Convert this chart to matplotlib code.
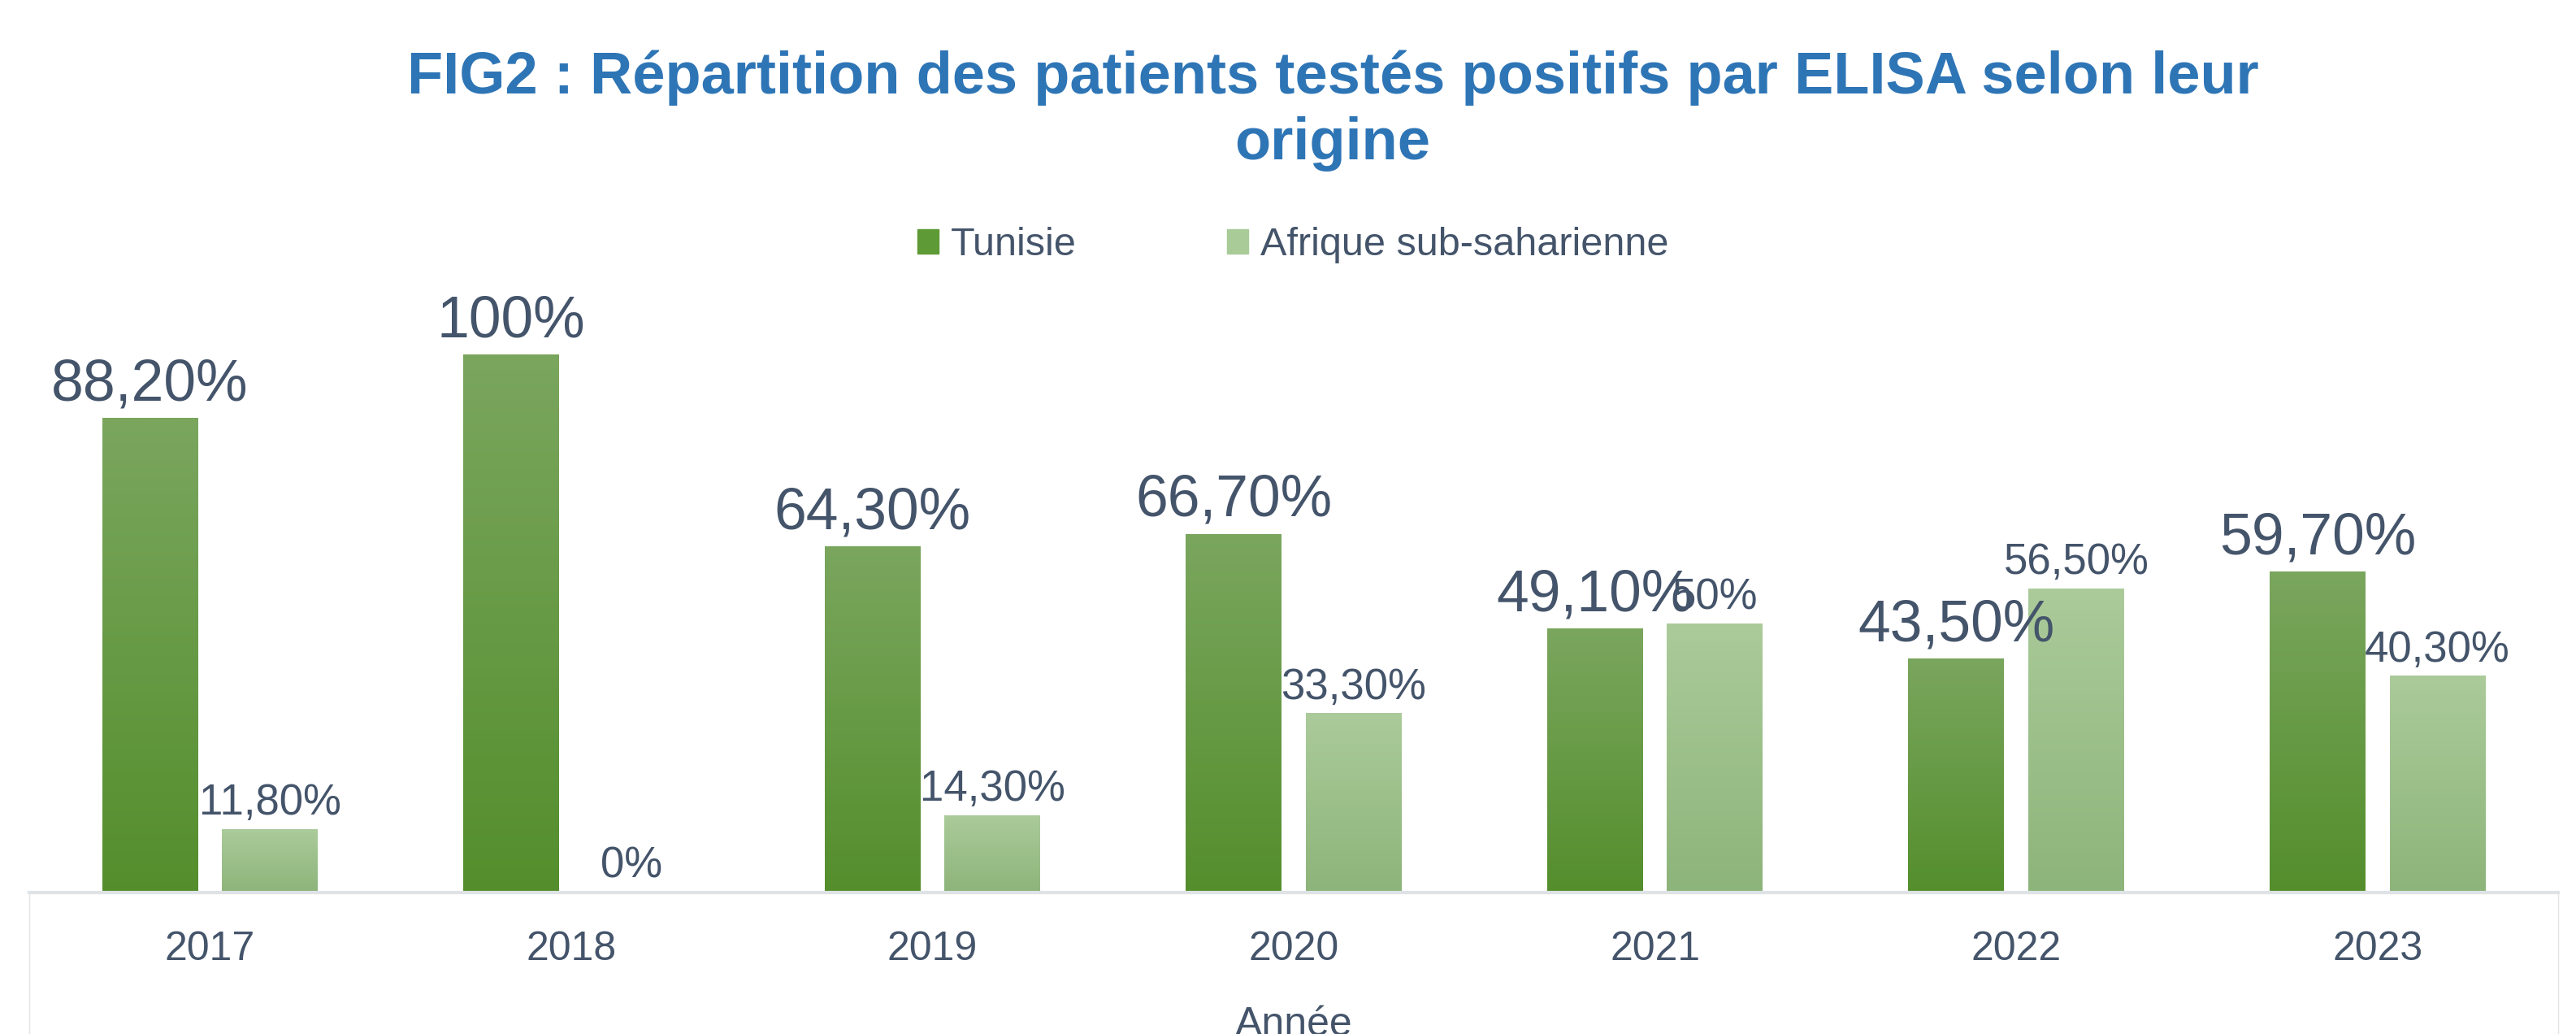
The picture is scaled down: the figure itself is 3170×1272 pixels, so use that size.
import matplotlib
matplotlib.use("Agg")
import matplotlib.pyplot as plt
import numpy as np
from matplotlib.patches import Patch, Rectangle
from matplotlib.colors import to_rgb

annees = ["2017", "2018", "2019", "2020", "2021", "2022", "2023"]
tunisie = [88.2, 100, 64.3, 66.7, 49.1, 43.5, 59.7]
afrique = [11.8, 0, 14.3, 33.3, 50, 56.5, 40.3]
lab_tunisie = ["88,20%", "100%", "64,30%", "66,70%", "49,10%", "43,50%", "59,70%"]
lab_afrique = ["11,80%", "0%", "14,30%", "33,30%", "50%", "56,50%", "40,30%"]

plt.rcParams["font.family"] = ["Liberation Sans", "DejaVu Sans"]
txt = "#44546A"

W, H = 3170, 1272
fig = plt.figure(figsize=(W / 100, H / 100), dpi=100)
ax_left, ax_right = 36, 3148
ax_bot, ax_top = 1098, 1098 - 661 * 1.1
ax = fig.add_axes([ax_left / W, 1 - ax_bot / H, (ax_right - ax_left) / W, (ax_bot - ax_top) / H])

x = np.arange(len(annees))
bw = 0.265
off = 0.166


def gradient(bars, top, bottom):
    c1, c2 = np.array(to_rgb(top)), np.array(to_rgb(bottom))
    t = np.linspace(0, 1, 256)[:, None, None]
    img = c1 * (1 - t) + c2 * t
    for b in bars:
        h = b.get_height()
        if h <= 0:
            continue
        x0 = b.get_x()
        ax.imshow(img, extent=[x0, x0 + b.get_width(), 0, h], aspect="auto",
                  origin="upper", zorder=2, interpolation="bilinear")
        b.set_facecolor("none")


b1 = ax.bar(x - off, tunisie, bw, color="#64A03C", zorder=2, linewidth=0)
b2 = ax.bar(x + off, afrique, bw, color="#A5C791", zorder=2, linewidth=0)
gradient(b1, "#7AA65E", "#548E2C")
gradient(b2, "#ABCB9A", "#8DB47A")

for xi, v, s in zip(x, afrique, lab_afrique):
    ax.annotate(s, (xi + off, v), xytext=(0, 13), textcoords="offset points",
                ha="center", va="baseline", fontsize=38, color=txt, zorder=3)
for xi, v, s in zip(x, tunisie, lab_tunisie):
    ax.annotate(s, (xi - off, v), xytext=(0, 16), textcoords="offset points",
                ha="center", va="baseline", fontsize=51.5, color=txt, zorder=4)

ax.set_xlim(-0.5, 6.5)
ax.set_ylim(0, 110)
ax.set_xticks(x)
ax.set_xticklabels(annees, fontsize=36, color=txt)
ax.tick_params(axis="x", length=0, pad=34)
ax.set_yticks([])
for s in ["top", "left", "right"]:
    ax.spines[s].set_visible(False)
ax.spines["bottom"].set_color("#DDE3E8")
ax.spines["bottom"].set_linewidth(3)
ax.set_xlabel("Année", fontsize=36, color=txt)
ax.xaxis.set_label_coords(0.5, -(1274 - ax_bot) / (ax_bot - ax_top))
ax.xaxis.label.set_va("baseline")

fig.patches.append(Rectangle((ax_left / W, -0.05), (ax_right - ax_left) / W, 0.05 + 1 - ax_bot / H,
                             transform=fig.transFigure, fill=False, edgecolor="#E3E3E3", linewidth=1))

fig.text(1640 / W, 1 - 115 / H, "FIG2 : Répartition des patients testés positifs par ELISA selon leur",
         ha="center", va="baseline", fontsize=52, fontweight="bold", color="#2E75B6")
fig.text(1640 / W, 1 - 196 / H, "origine",
         ha="center", va="baseline", fontsize=52, fontweight="bold", color="#2E75B6")

handles = [Patch(color="#5E9A35"), Patch(color="#A8CB98")]
fig.legend(handles, ["Tunisie", "Afrique sub-saharienne"], loc="center",
           bbox_to_anchor=(1591 / W, 1 - 302 / H), ncol=2, frameon=False, fontsize=35,
           labelcolor=txt, handlelength=0.55, handleheight=0.58, handletextpad=0.3,
           columnspacing=3.8)

fig.savefig("out.png", dpi=100)
